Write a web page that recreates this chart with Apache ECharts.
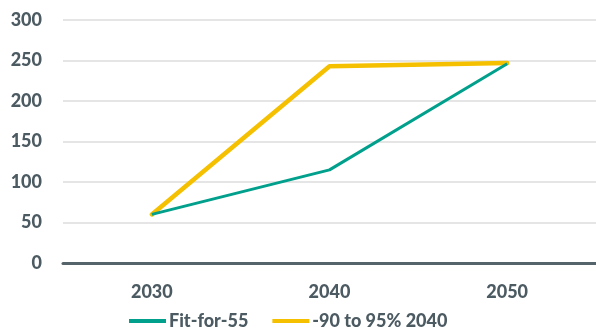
<!DOCTYPE html>
<html>
<head>
<meta charset="utf-8">
<script src="https://cdn.jsdelivr.net/npm/echarts@6/dist/echarts.min.js"></script>
<style>
	html, body { margin: 0; padding: 0; background: #fff; }
	#chart { width: 596px; height: 336px; }
</style>
</head>
<body>
<div id="chart"></div>
<script>
// data
var years = [ '2030', '2040', '2050' ];
var fitFor55 = [ 60, 115, 246 ];
var target2040 = [ 60, 243, 247 ];
var yTicks = [ 0, 50, 100, 150, 200, 250, 300 ];

var textColor = '#4c5a62';
var font = 'Lato';
var weight = 900;

var myChart = echarts.init(document.getElementById('chart'));
var option = {
	animation : false,
	grid : {
		left : 63,
		right : 0,
		top : 20,
		bottom : 73
	},
	legend : {
		bottom : 1,
		left : 124,
		icon : 'rect',
		itemWidth : 37,
		itemHeight : 4,
		itemGap : 24,
		textStyle : {
			color : textColor,
			fontFamily : font,
			fontWeight : weight,
			fontSize : 18,
			padding : [ 0, 0, 0, -2 ]
		},
		data : [ 'Fit-for-55', '-90 to 95% 2040' ]
	},
	xAxis : {
		type : 'category',
		data : years,
		boundaryGap : true,
		axisLine : {
			lineStyle : {
				color : '#55636b',
				width : 3
			}
		},
		axisTick : {
			length : 6,
			lineStyle : {
				color : '#55636b',
				width : 2
			}
		},
		axisLabel : {
			color : textColor,
			fontFamily : font,
			fontWeight : weight,
			fontSize : 18,
			margin : 20
		}
	},
	yAxis : {
		type : 'value',
		min : yTicks[0],
		max : yTicks[yTicks.length - 1],
		interval : 50,
		axisLine : { show : false },
		axisTick : { show : false },
		splitLine : {
			lineStyle : {
				color : '#dcdcdc',
				width : 1.5
			}
		},
		axisLabel : {
			color : textColor,
			fontFamily : font,
			fontWeight : weight,
			fontSize : 18,
			margin : 21
		}
	},
	series : [ {
		name : 'Fit-for-55',
		type : 'line',
		data : fitFor55,
		symbol : 'none',
		color : '#00a08c',
		lineStyle : { width : 3 },
		z : 3
	}, {
		name : '-90 to 95% 2040',
		type : 'line',
		data : target2040,
		symbol : 'none',
		color : '#f5c000',
		lineStyle : { width : 4.5, cap : 'round' },
		z : 2
	} ]
};
myChart.setOption(option);
</script>
</body>
</html>
